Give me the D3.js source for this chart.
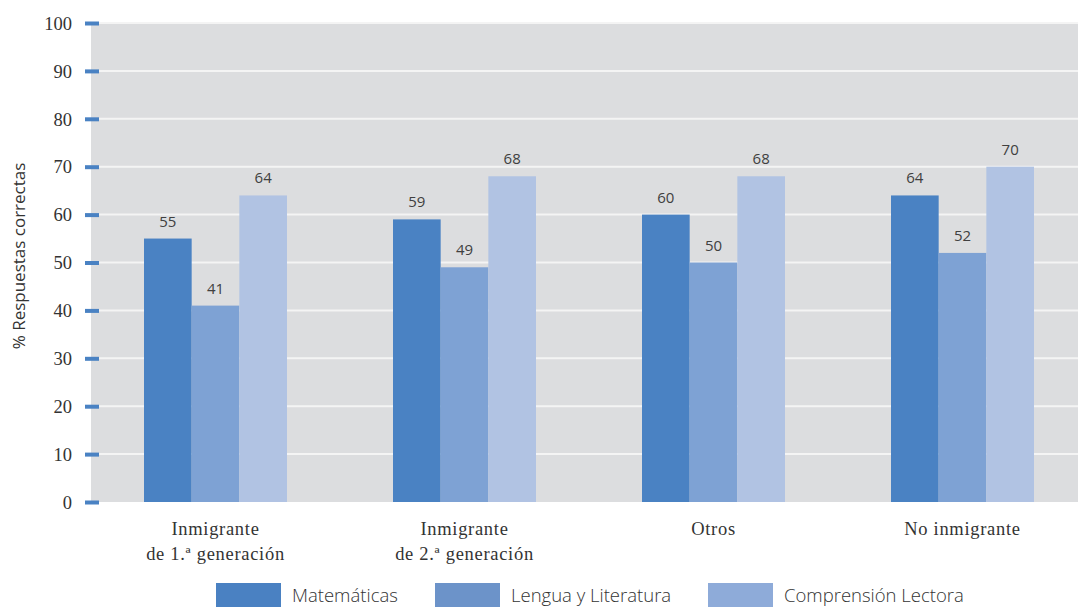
<!DOCTYPE html>
<html><head><meta charset="utf-8">
<script src="https://cdn.jsdelivr.net/npm/d3@7"></script>
<style>body{margin:0;background:#fff;overflow:hidden}</style>
</head><body>
<svg id="c" width="1078" height="607"></svg>
<script>
const categories = [["Inmigrante","de 1.ª generación"],["Inmigrante","de 2.ª generación"],["Otros"],["No inmigrante"]];
const seriesNames = ["Matemáticas","Lengua y Literatura","Comprensión Lectora"];
const matematicas = [55,59,60,64];
const lengua = [41,49,50,52];
const comprension = [64,68,68,70];
const yTicks = [0,10,20,30,40,50,60,70,80,90,100];
const barColors = ["#4a82c3","#7ea2d4","#b1c3e3"];
const legendColors = ["#4a81c2","#6c93c9","#8eabd9"];

(function(){
const svg = d3.select("#c");
const pL = 91, pR = 1087, pT = 23, pB = 502;
const y = d3.scaleLinear().domain([0,100]).range([pB, pT]);
const x0 = d3.scaleBand().domain(d3.range(categories.length)).range([pL, pR]).padding(0);
const x1 = d3.scaleBand().domain(d3.range(3)).range([0, 143]);
const series = [matematicas, lengua, comprension];

svg.append("rect").attr("x", pL).attr("y", pT).attr("width", 1078 - pL).attr("height", pB - pT).attr("fill", "#dcdddf");
svg.append("g").selectAll("line").data(yTicks.filter(d => d > 0)).join("line")
  .attr("x1", pL).attr("x2", 1078).attr("y1", d => y(d)).attr("y2", d => y(d))
  .attr("stroke", "#f4f4f4").attr("stroke-width", 2);

const axis = svg.append("g").attr("transform", `translate(${pL},0)`)
  .call(d3.axisLeft(y).tickValues(yTicks).tickSize(0).tickPadding(19));
axis.select(".domain").remove();
axis.attr("font-family", "Liberation Serif, serif").attr("font-size", 18.5);
axis.selectAll("text").attr("fill", "#333").attr("dy", "0.34em");
axis.selectAll(".tick").append("rect").attr("x", -6).attr("y", -2).attr("width", 14).attr("height", 4).attr("fill", "#4a82c3");

categories.forEach((c, i) => {
  const gx = x0(i) + x0.bandwidth()/2 - 71.5;
  const g = svg.append("g").attr("transform", `translate(${gx},0)`);
  series.forEach((s, k) => {
    g.append("rect").attr("x", x1(k)).attr("width", x1.bandwidth()).attr("y", y(s[i])).attr("height", y(0) - y(s[i])).attr("fill", barColors[k]);
    g.append("text").attr("x", x1(k) + x1.bandwidth()/2).attr("y", y(s[i]) - 12).attr("text-anchor", "middle")
      .attr("font-family", "Open Sans, sans-serif").attr("font-size", 15).attr("fill", "#404040").text(s[i]);
  });
  const t = svg.append("text").attr("text-anchor", "middle").attr("font-family", "Liberation Serif, serif").attr("font-size", 18.5).attr("letter-spacing", 0.7).attr("fill", "#333");
  c.forEach((line, j) => {
    t.append("tspan").attr("x", x0(i) + x0.bandwidth()/2).attr("y", 535 + j*25).text(line);
  });
});

svg.append("text").attr("transform", "translate(25,256) rotate(-90)").attr("text-anchor", "middle")
  .attr("font-family", "Open Sans, sans-serif").attr("font-size", 17).attr("fill", "#333").text("% Respuestas correctas");

const legX = [216, 435, 708];
seriesNames.forEach((n, k) => {
  svg.append("rect").attr("x", legX[k]).attr("y", 583).attr("width", 65).attr("height", 30).attr("fill", legendColors[k]);
  svg.append("text").attr("x", legX[k] + 76).attr("y", 602).attr("font-family", "Open Sans, sans-serif").attr("font-size", 18.5).attr("font-weight", 300).attr("fill", "#333").text(n);
});
})();
</script>
</body></html>
